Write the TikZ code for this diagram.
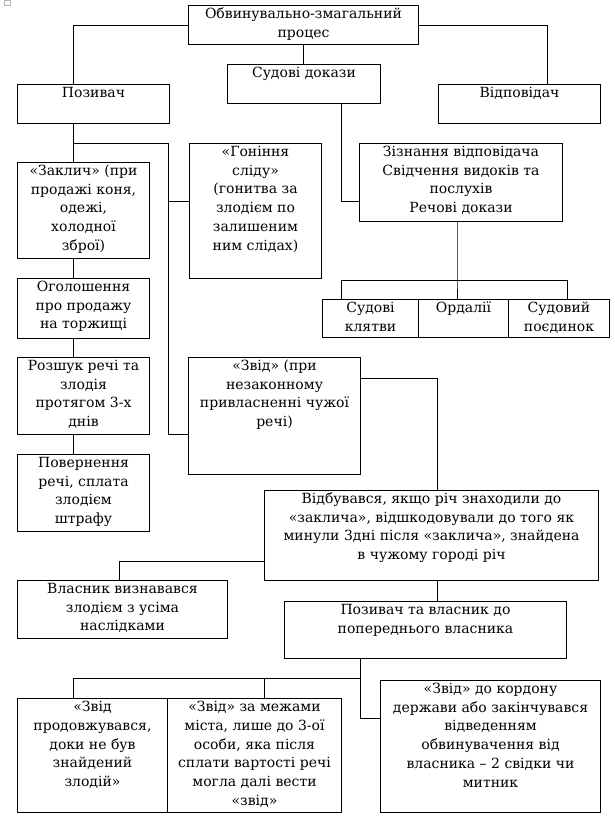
\documentclass[tikz,border=0pt]{standalone}
\usepackage{fontspec}
\setmainfont{DejaVu Serif}
\newcommand{\bt}[3]{\parbox[c][#2][t]{#1}{\centering\fontsize{14pt}{18.7pt}\selectfont\strut #3\par}}
\begin{document}
\begin{tikzpicture}[x=1pt,y=-1pt,
  bx/.style={draw=black, line width=1pt, inner sep=0pt, anchor=north west, fill=white},
  ln/.style={draw=black, line width=1pt}]
\fill[white] (0,0) rectangle (615,827);
\useasboundingbox (0,0) rectangle (615,827);
\draw[gray!60, line width=0.5pt] (4,0.5) rectangle (10,5);

% boxes
\node[bx] (top) at (188,5) {\bt{230pt}{39pt}{Обвинувально-змагальний\\процес}};
\node[bx] (sud) at (227,64) {\bt{153pt}{39pt}{Судові докази}};
\node[bx] (poz) at (17,84) {\bt{152pt}{39pt}{Позивач}};
\node[bx] (vid) at (438,84) {\bt{162pt}{39pt}{Відповідач}};
\node[bx] (zak) at (17,162) {\bt{132pt}{96pt}{«Заклич» (при\\продажі коня,\\одежі,\\холодної\\зброї)}};
\node[bx] (gon) at (189,143) {\bt{132pt}{135pt}{«Гоніння\\сліду»\\(гонитва за\\злодієм по\\залишеним\\ним слідах)}};
\node[bx] (ziz) at (359,143) {\bt{203pt}{78pt}{Зізнання відповідача\\Свідчення видоків та\\послухів\\Речові докази}};
\node[bx] (kl) at (322,299) {\bt{96pt}{38pt}{Судові\\клятви}};
\node[bx] (ord) at (418,299) {\bt{90pt}{38pt}{Ордалії}};
\node[bx] (poe) at (508,299) {\bt{101pt}{38pt}{Судовий\\поєдинок}};
\node[bx] (ogo) at (17,278) {\bt{132pt}{60pt}{Оголошення\\про продажу\\на торжищі}};
\node[bx] (roz) at (17,357) {\bt{132pt}{77pt}{Розшук речі та\\злодія\\протягом 3-х\\днів}};
\node[bx] (pov) at (17,454) {\bt{132pt}{77pt}{Повернення\\речі, сплата\\злодієм\\штрафу}};
\node[bx] (zvid) at (188,357) {\bt{172pt}{117pt}{«Звід» (при\\незаконному\\привласненні чужої\\речі)}};
\node[bx] (vidb) at (264,490) {\bt{334pt}{90pt}{Відбувався, якщо річ знаходили до\\«заклича», відшкодовували до того як\\минули 3дні після «заклича», знайдена\\в чужому городі річ}};
\node[bx] (vlas) at (17,580) {\bt{210pt}{58pt}{Власник визнавався\\злодієм з усіма\\наслідками}};
\node[bx] (pv) at (284,601) {\bt{282pt}{57pt}{Позивач та власник до\\попереднього власника}};
\node[bx] (b1) at (17,698) {\bt{150pt}{114pt}{«Звід\\продовжувався,\\доки не був\\знайдений\\злодій»}};
\node[bx] (b2) at (167,698) {\bt{174pt}{114pt}{«Звід» за межами\\міста, лише до 3-ої\\особи, яка після\\сплати вартості речі\\могла далі вести\\«звід»}};
\node[bx] (b3) at (380,680) {\bt{220pt}{132pt}{«Звід» до кордону\\держави або закінчувався\\відведенням\\обвинувачення від\\власника – 2 свідки чи\\митник}};

% bend points
\coordinate (xl) at (73,0);
\coordinate (xr) at (547,0);
\coordinate (a1) at (73,143);
\coordinate (a2) at (168,143);
\coordinate (a3) at (168,201);
\coordinate (a4) at (168,434);
\coordinate (s1) at (341,201);
\coordinate (z0) at (341,280);
\coordinate (z1) at (457,280);
\coordinate (z2) at (567,280);
\coordinate (v1) at (437,378);
\coordinate (w1) at (119,561);
\coordinate (p0) at (73,678);
\coordinate (pm) at (264,678);
\coordinate (p1) at (360,678);
\coordinate (p2) at (360,718);

% connectors
\draw[ln] (top.west) -| (xl |- poz.north);
\draw[ln] (top.east) -| (xr |- vid.north);
\draw[ln] (top.south) -- (top.south |- sud.north);
\draw[ln] (xl |- poz.south) -- (xl |- zak.north);
\draw[ln] (xl |- zak.south) -- (xl |- ogo.north);
\draw[ln] (xl |- ogo.south) -- (xl |- roz.north);
\draw[ln] (xl |- roz.south) -- (xl |- pov.north);
\draw[ln] (a1) -- (a2) -- (a4) -- (a4 -| zvid.west);
\draw[ln] (a3) -- (a3 -| gon.west);
\draw[ln] (s1 |- sud.south) -- (s1) -- (s1 -| ziz.west);
\draw[ln] (z1 |- ziz.south) -- (z1) -- (z1 |- ord.north);
\draw[ln] (z0 |- kl.north) -- (z0) -- (z2) -- (z2 |- poe.north);
\draw[ln] (v1 -| zvid.east) -- (v1) -- (v1 |- vidb.north);
\draw[ln] (w1 -| vidb.west) -- (w1) -- (w1 |- vlas.north);
\draw[ln] (v1 |- vidb.south) -- (v1 |- pv.north);
\draw[ln] (p1 |- pv.south) -- (p2) -- (p2 -| b3.west);
\draw[ln] (p0 |- b1.north) -- (p0) -- (p1);
\draw[ln] (pm) -- (pm |- b2.north);
\end{tikzpicture}
\end{document}
